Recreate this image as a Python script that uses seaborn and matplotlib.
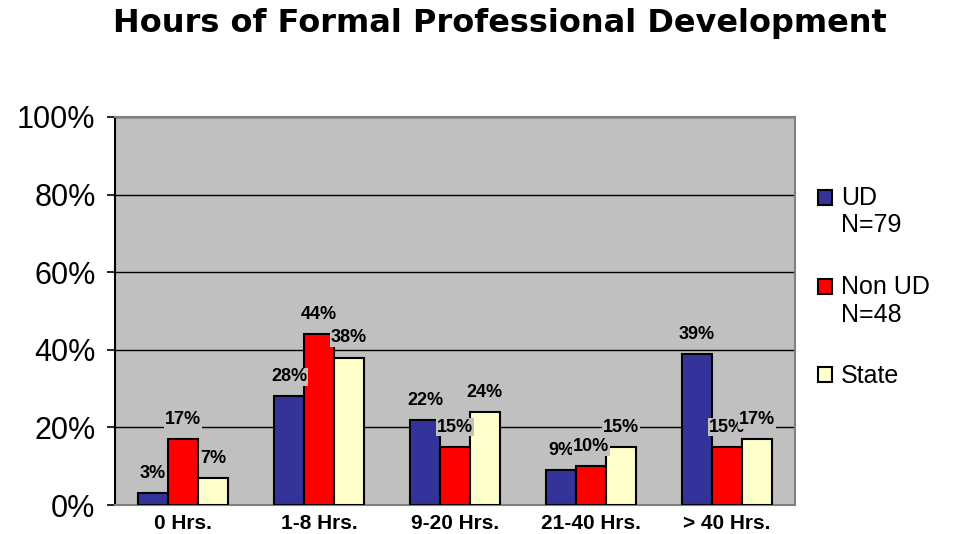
import pandas as pd
import matplotlib.pyplot as plt
import seaborn as sns

# -----------------------------
# Data
# -----------------------------
categories = ["0 Hrs.", "1-8 Hrs.", "9-20 Hrs.", "21-40 Hrs.", "> 40 Hrs."]
groups = ["UD\nN=79", "Non UD\nN=48", "State"]
ud = [3, 28, 22, 9, 39]
non_ud = [17, 44, 15, 10, 15]
state = [7, 38, 24, 15, 17]

data = pd.DataFrame({
    "Hours": categories * 3,
    "Group": [groups[0]] * 5 + [groups[1]] * 5 + [groups[2]] * 5,
    "Percent": ud + non_ud + state,
})

colors = ["#333399", "#FF0000", "#FFFFCC"]

# -----------------------------
# Plot
# -----------------------------
sns.set_style("white")
plt.rcParams["font.family"] = ["Liberation Sans", "DejaVu Sans"]
plt.rcParams["text.color"] = "black"
plt.rcParams["xtick.color"] = "black"
plt.rcParams["ytick.color"] = "black"

fig = plt.figure(figsize=(9.56, 5.34), dpi=100)
ax = fig.add_axes([0.1203, 0.0543, 0.7113, 0.7267])

sns.barplot(
    data=data,
    x="Hours",
    y="Percent",
    hue="Group",
    order=categories,
    hue_order=groups,
    palette=colors,
    width=0.66,
    edgecolor="black",
    linewidth=1.5,
    saturation=1,
    ax=ax,
    zorder=3,
)

ax.set_facecolor("#C0C0C0")
ax.set_ylim(0, 100)
ax.set_yticks([0, 20, 40, 60, 80, 100])
ax.set_yticklabels(["0%", "20%", "40%", "60%", "80%", "100%"], fontsize=22)
ax.yaxis.grid(True, color="black", linewidth=1, zorder=0)
ax.set_axisbelow(True)
ax.tick_params(axis="y", left=True, length=6, width=1.2, color="black", pad=8)
ax.tick_params(axis="x", bottom=False, pad=3)
for lbl in ax.get_xticklabels():
    lbl.set_fontweight("bold")
    lbl.set_fontsize(15)
ax.set_xlabel("")
ax.set_ylabel("")

for side in ["top", "right", "bottom"]:
    ax.spines[side].set_color("#808080")
    ax.spines[side].set_linewidth(1.5)
ax.spines["left"].set_color("black")
ax.spines["left"].set_linewidth(1.5)

for container in ax.containers:
    ax.bar_label(
        container,
        fmt="%g%%",
        fontsize=13,
        fontweight="bold",
        padding=8,
        bbox=dict(facecolor="#C0C0C0", edgecolor="none", pad=0.5),
        zorder=4,
    )

handles, labels = ax.get_legend_handles_labels()
ax.legend_.remove()
leg = fig.legend(
    handles,
    labels,
    loc="upper left",
    bbox_to_anchor=(0.843, 0.676),
    frameon=False,
    fontsize=18,
    handlelength=0.55,
    handleheight=0.55,
    handletextpad=0.35,
    labelspacing=1.5,
    borderpad=0,
)
# put the key next to the first line of two-line labels
for h, lab in zip(leg.legend_handles, labels):
    if "\n" in lab:
        h.set_y(h.get_y() + 10.5)

fig.suptitle("Hours of Formal Professional Development",
             x=0.523, y=0.985, fontsize=23, fontweight="bold",
             fontfamily="DejaVu Sans")

plt.savefig("out.png", dpi=100)
plt.close()
